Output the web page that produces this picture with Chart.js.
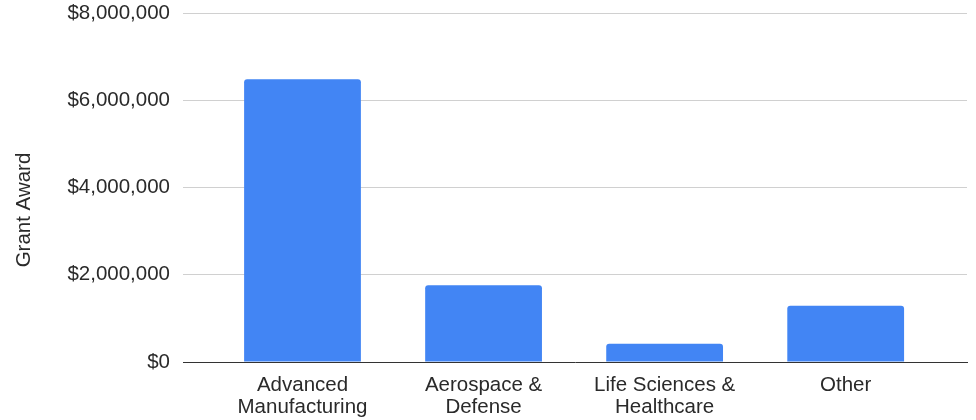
<!DOCTYPE html>
<html>
<head>
<meta charset="utf-8">
<script src="https://cdn.jsdelivr.net/npm/chart.js@4"></script>
<style>
  html, body { margin: 0; padding: 0; background: #fff; }
  #wrap { width: 976px; height: 420px; }
</style>
</head>
<body>
<div id="wrap"><canvas id="myChart" width="976" height="420"></canvas></div>
<script>
'use strict';
// chart data
const categories = ['Advanced Manufacturing', 'Aerospace & Defense', 'Life Sciences & Healthcare', 'Other'];
const categoryLines = [['Advanced', 'Manufacturing'], ['Aerospace &', 'Defense'], ['Life Sciences &', 'Healthcare'], ['Other']];
const grantAwards = [6480000, 1760000, 420000, 1290000];
const yTicks = [0, 2000000, 4000000, 6000000, 8000000];
const yTitle = 'Grant Award';

const textFont = { family: "'Liberation Sans', Arial, sans-serif", size: 20.5, lineHeight: 1.07 };
const textColor = '#2a2a2a';

// y axis title, centred on the whole canvas like the original
const yTitlePlugin = {
	id: 'yTitle',
	afterDraw(chart) {
		const c = chart.ctx;
		c.save();
		c.translate(24, chart.height / 2);
		c.rotate(-Math.PI / 2);
		c.font = `${textFont.size}px ${textFont.family}`;
		c.fillStyle = textColor;
		c.textAlign = 'center';
		c.textBaseline = 'middle';
		c.fillText(yTitle, 0, 0);
		c.restore();
	},
};

const ctx = document.getElementById('myChart');

const chart = new Chart(ctx, {
	type: 'bar',
	data: {
		datasets: [
			{
				label: yTitle,
				data: categories.map((c, i) => ({ x: i, y: grantAwards[i] })),
				backgroundColor: '#4285F4',
				borderRadius: 3,
				borderSkipped: 'start',
				categoryPercentage: 1,
				barPercentage: 0.645,
			},
		],
	},
	plugins: [yTitlePlugin],
	options: {
		responsive: false,
		animation: false,
		layout: { padding: { top: 0, right: 9, left: 0, bottom: 0 } },
		plugins: {
			legend: { display: false },
			tooltip: { enabled: false },
		},
		scales: {
			x: {
				type: 'linear',
				offset: false,
				min: -0.66,
				max: 3.67,
				afterBuildTicks: (scale) => {
					scale.ticks = categories.map((c, i) => ({ value: i }));
				},
				afterFit: (scale) => {
					scale.height = 58;
					scale.paddingLeft = 0;
					scale.paddingRight = 0;
				},
				grid: { display: false, drawTicks: false },
				border: { display: true, color: '#333', width: 1 },
				ticks: {
					autoSkip: false,
					maxRotation: 0,
					padding: 12,
					color: textColor,
					font: textFont,
					callback: (value) => categoryLines[value] || '',
				},
			},
			y: {
				min: 0,
				max: 8000000,
				afterBuildTicks: (scale) => {
					scale.ticks = yTicks.map((v) => ({ value: v }));
				},
				afterFit: (scale) => {
					scale.width = 183;
					scale.paddingTop = 13;
					scale.paddingBottom = 11;
				},
				grid: {
					drawTicks: false,
					color: (c) => (c.tick && c.tick.value === 0 ? 'rgba(0,0,0,0)' : '#d0d0d0'),
				},
				border: { display: false },
				ticks: {
					padding: 13,
					color: textColor,
					font: textFont,
					callback: (value) => '$' + value.toLocaleString('en-US'),
				},
			},
		},
	},
});
</script>
</body>
</html>
